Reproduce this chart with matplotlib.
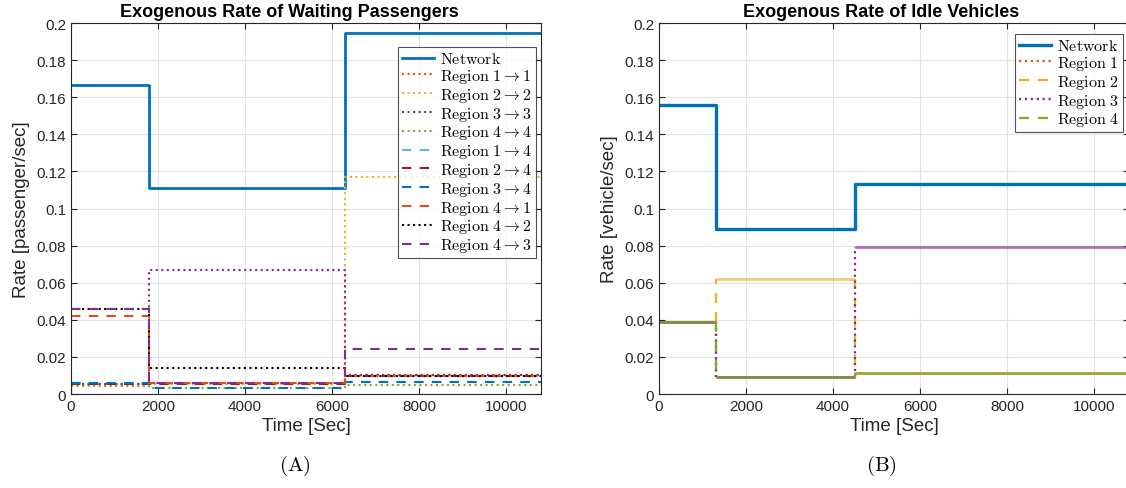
import numpy as np
import matplotlib
matplotlib.use("Agg")
import matplotlib.pyplot as plt

plt.rcParams['font.family'] = ['Liberation Sans', 'DejaVu Sans']
plt.rcParams['mathtext.fontset'] = 'cm'

# matlab default line colours
c_blue = '#0072BD'
c_orange = '#D95319'
c_yellow = '#EDB120'
c_purple = '#7E2F8E'
c_green = '#77AC30'
c_cyan = '#4DBEEE'
c_red = '#A2142F'

t_end = 10800

# ---- waiting passengers (left panel) ----
pax_edges = [0, 1800, 6300, t_end]
pax_network = [0.1667, 0.1111, 0.1944]
pax_11 = [0.0055, 0.0055, 0.0100]
pax_22 = [0.0055, 0.0055, 0.1168]
pax_33 = [0.0055, 0.0668, 0.0100]
pax_44 = [0.0044, 0.0033, 0.0049]
pax_14 = [0.0057, 0.0035, 0.0066]
pax_24 = [0.0055, 0.0055, 0.0099]
pax_34 = [0.0057, 0.0035, 0.0066]
pax_41 = [0.0419, 0.0057, 0.0099]
pax_42 = [0.0460, 0.0140, 0.0099]
pax_43 = [0.0460, 0.0057, 0.0244]

# ---- idle vehicles (right panel) ----
veh_edges = [0, 1300, 4500, t_end]
veh_network = [0.1556, 0.0889, 0.1133]
veh_r1 = [0.0390, 0.0090, 0.0115]
veh_r2 = [0.0390, 0.0622, 0.0115]
veh_r3 = [0.0390, 0.0090, 0.0795]
veh_r4 = [0.0390, 0.0090, 0.0115]


def stepxy(edges, vals):
    return np.array(edges), np.append(vals, vals[-1])


def mtl(s):
    return r'$\mathrm{' + s.replace(' ', r'\ ') + '}$'


def region_label(a, b):
    return r'$\mathrm{Region}\ %d \rightarrow %d$' % (a, b)


def style_axes(ax, ylab):
    ax.set_xlim(0, t_end)
    ax.set_ylim(0, 0.2)
    ax.set_xticks(np.arange(0, 10001, 2000))
    ax.set_yticks(np.arange(0, 0.2001, 0.02))
    ax.set_yticklabels(['%g' % round(v, 2) for v in np.arange(0, 0.2001, 0.02)])
    ax.grid(True, color='#e3e3e3', linewidth=0.8)
    ax.set_axisbelow(True)
    ax.tick_params(direction='in', top=True, right=True, length=4,
                   labelsize=11, colors='#262626', width=0.8)
    for s in ax.spines.values():
        s.set_color('#262626')
        s.set_linewidth(0.8)
    ax.set_xlabel('Time [Sec]', fontsize=13.5, color='#262626', labelpad=3)
    ax.set_ylabel(ylab, fontsize=13.5, color='#262626', labelpad=5)


def add_legend(ax, anchor):
    leg = ax.legend(loc='upper right', bbox_to_anchor=anchor, fontsize=11.5,
                    frameon=True, fancybox=False, edgecolor='#262626',
                    handlelength=2.0, handletextpad=0.35, labelspacing=0.05,
                    borderpad=0.25, borderaxespad=0)
    leg.get_frame().set_linewidth(0.8)
    return leg


fig = plt.figure(figsize=(11.26, 4.89), dpi=100)
ax1 = fig.add_axes([0.0631, 0.1922, 0.4174, 0.7587])
ax2 = fig.add_axes([0.5853, 0.1922, 0.4174, 0.7587])

dash = (4.5, 4.0)

x, y = stepxy(pax_edges, pax_network)
ax1.step(x, y, where='post', color=c_blue, lw=2.0, label=mtl('Network'))
dotted = [(pax_11, c_orange, (1, 1)), (pax_22, c_yellow, (2, 2)),
          (pax_33, c_purple, (3, 3)), (pax_44, c_green, (4, 4))]
for vals, col, (a, b) in dotted:
    x, y = stepxy(pax_edges, vals)
    ax1.step(x, y, where='post', color=col, lw=1.5, ls=':', label=region_label(a, b))
dashed = [(pax_14, c_cyan, (1, 4), '--'), (pax_24, c_red, (2, 4), '--'),
          (pax_34, c_blue, (3, 4), '--'), (pax_41, c_orange, (4, 1), '--'),
          (pax_42, 'black', (4, 2), ':'), (pax_43, c_purple, (4, 3), '--')]
for vals, col, (a, b), ls in dashed:
    x, y = stepxy(pax_edges, vals)
    line, = ax1.step(x, y, where='post', color=col, lw=1.5, ls=ls, label=region_label(a, b))
    if ls == '--':
        line.set_dashes(dash)

style_axes(ax1, 'Rate [passenger/sec]')
ax1.set_title('Exogenous Rate of Waiting Passengers', fontsize=13,
              fontweight='bold', pad=5, x=0.465)
add_legend(ax1, (0.989, 0.935))

# idle vehicles: horizontal runs are solid and light, the jumps keep the line style
x, y = stepxy(veh_edges, veh_network)
ax2.step(x, y, where='post', color=c_blue, lw=2.4, label=mtl('Network'))
veh_series = [(veh_r1, c_orange, 1, ':'), (veh_r2, c_yellow, 2, '--'),
              (veh_r3, c_purple, 3, ':'), (veh_r4, c_green, 4, '--')]
for vals, col, k, ls in veh_series:
    vals = np.array(vals)
    ax2.hlines(vals, veh_edges[:-1], veh_edges[1:], colors=col, lw=2.0, alpha=0.65)
    ax2.vlines(veh_edges[1:-1], vals[:-1], vals[1:], colors=col, lw=1.6,
               linestyles=ls if ls == ':' else (0, dash))
    line, = ax2.plot([], [], color=col, lw=1.6, ls=ls, label=r'$\mathrm{Region}\ %d$' % k)
    if ls == '--':
        line.set_dashes(dash)

style_axes(ax2, 'Rate [vehicle/sec]')
ax2.set_title('Exogenous Rate of Idle Vehicles', fontsize=13,
              fontweight='bold', pad=5, x=0.473)
add_legend(ax2, (0.987, 0.970))

fig.text(0.262, 0.047, mtl('(A)'), fontsize=15, ha='center', va='center')
fig.text(0.783, 0.047, mtl('(B)'), fontsize=15, ha='center', va='center')

fig.savefig('out.png', dpi=100)
